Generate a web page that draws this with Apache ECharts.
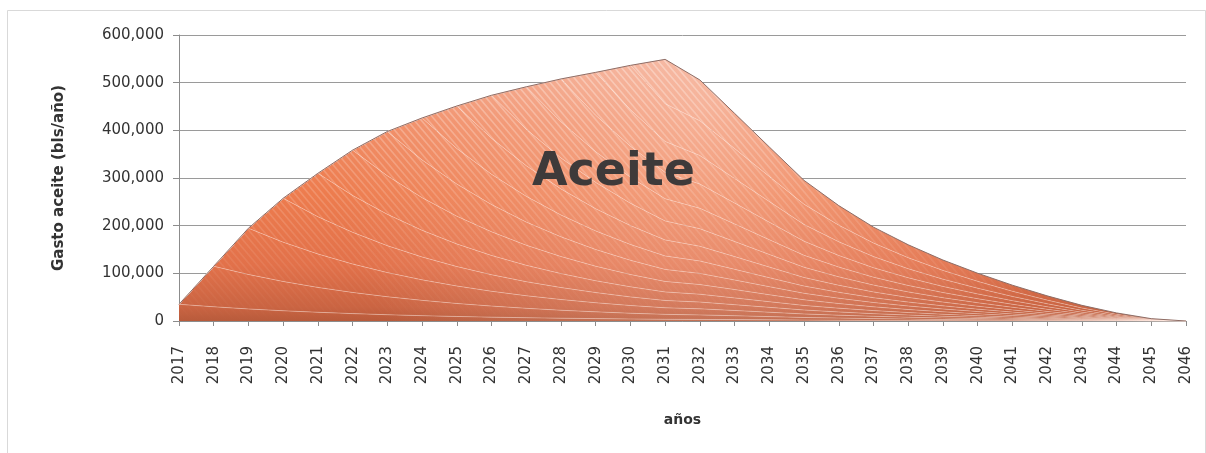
<!DOCTYPE html>
<html>
<head>
<meta charset="utf-8">
<script src="https://cdn.jsdelivr.net/npm/echarts@6/dist/echarts.min.js"></script>
<style>
html,body{margin:0;padding:0;background:#ffffff;}
#chart{width:1206px;height:453px;}
</style>
</head>
<body>
<div id="chart"></div>
<script>
// Years (x categories)
var years = ['2017','2018','2019','2020','2021','2022','2023','2024','2025','2026',
             '2027','2028','2029','2030','2031','2032','2033','2034','2035','2036',
             '2037','2038','2039','2040','2041','2042','2043','2044','2045','2046'];

// Oil rate contribution (bls/año) of the wells brought on line each year
var c2017 = [35000,29800,25300,21500,18300,15500,13200,11200,9500,8100,6900,5900,5000,4200,3600,3300,2900,2400,1900,1600,1300,1000,800,700,500,300,200,100,0,0];
var c2018 = [0,85000,72300,61400,52200,44400,37700,32100,27300,23200,19700,16700,14200,12100,10300,9500,8200,6800,5500,4500,3700,3000,2400,1900,1400,1000,600,300,100,0];
var c2019 = [0,0,97000,82500,70100,59600,50600,43000,36600,31100,26400,22500,19100,16200,13800,12700,11000,9200,7400,6100,4900,4000,3200,2500,1900,1300,800,400,100,0];
var c2020 = [0,0,0,92000,78200,66500,56500,48000,40800,34700,29500,25100,21300,18100,15400,14200,12200,10200,8300,6800,5500,4500,3600,2800,2100,1500,900,500,100,0];
var c2021 = [0,0,0,0,91000,77400,65700,55900,47500,40400,34300,29200,24800,21100,17900,16500,14200,11900,9600,7900,6400,5200,4200,3300,2400,1700,1100,600,200,0];
var c2022 = [0,0,0,0,0,95000,80800,68600,58300,49600,42200,35800,30500,25900,22000,20300,17500,14600,11800,9700,7900,6400,5100,4000,3000,2100,1300,700,200,0];
var c2023 = [0,0,0,0,0,0,93000,79100,67200,57100,48500,41300,35100,29800,25300,23400,20100,16900,13600,11200,9100,7400,5900,4600,3500,2400,1500,800,200,0];
var c2024 = [0,0,0,0,0,0,0,88000,74800,63600,54000,45900,39000,33200,28200,26000,22400,18800,15200,12400,10100,8200,6600,5100,3900,2700,1700,900,300,0];
var c2025 = [0,0,0,0,0,0,0,0,89000,75700,64300,54700,46500,39500,33600,30900,26600,22300,18000,14800,12100,9800,7800,6100,4600,3200,2000,1000,300,0];
var c2026 = [0,0,0,0,0,0,0,0,0,90000,76500,65000,55300,47000,39900,36800,31700,26600,21500,17600,14300,11600,9300,7300,5500,3900,2400,1200,400,0];
var c2027 = [0,0,0,0,0,0,0,0,0,0,89000,75700,64300,54700,46500,42800,36900,30900,25000,20500,16700,13500,10800,8500,6300,4500,2800,1400,400,0];
var c2028 = [0,0,0,0,0,0,0,0,0,0,0,90000,76500,65000,55300,50900,43800,36800,29700,24400,19800,16100,12900,10100,7600,5300,3300,1700,500,0];
var c2029 = [0,0,0,0,0,0,0,0,0,0,0,0,90000,76500,65000,59900,51600,43200,35000,28700,23300,19000,15200,11900,8900,6300,3900,2000,600,0];
var c2030 = [0,0,0,0,0,0,0,0,0,0,0,0,0,93000,79100,72800,62700,52600,42500,34900,28400,23100,18400,14400,10800,7600,4800,2400,700,0];
var c2031 = [0,0,0,0,0,0,0,0,0,0,0,0,0,0,93000,85700,73800,61900,50000,41000,33400,27100,21700,17000,12700,9000,5600,2900,800,0];

var cohorts = [c2017,c2018,c2019,c2020,c2021,c2022,c2023,c2024,c2025,c2026,c2027,c2028,c2029,c2030,c2031];
var cohortNames = ['2017','2018','2019','2020','2021','2022','2023','2024','2025','2026','2027','2028','2029','2030','2031'];

var FONT = 'DejaVu Sans';
var W = 1206, H = 453;

// Fill texture (shared by every stacked band): orange gradient with fine light hatching
function makeTexture(){
  var cv = document.createElement('canvas');
  cv.width = W; cv.height = H;
  var g = cv.getContext('2d');
  var lg = g.createLinearGradient(0, 321, 0, 40);
  lg.addColorStop(0, '#b85b3b');
  lg.addColorStop(0.05, '#ca6442');
  lg.addColorStop(0.2, '#e2714a');
  lg.addColorStop(0.45, '#ed7c4e');
  lg.addColorStop(0.7, '#f08a62');
  lg.addColorStop(1, '#f2a88e');
  g.fillStyle = lg; g.fillRect(0, 0, W, H);
  var rg = g.createRadialGradient(700, 110, 0, 700, 110, 380);
  rg.addColorStop(0, 'rgba(255,232,225,0.4)');
  rg.addColorStop(0.55, 'rgba(255,228,220,0.16)');
  rg.addColorStop(1, 'rgba(255,228,220,0)');
  g.fillStyle = rg; g.fillRect(0, 0, W, H);
  var sg = g.createLinearGradient(0, 321, 0, 40);
  sg.addColorStop(0, 'rgba(255,235,225,0)');
  sg.addColorStop(0.25, 'rgba(255,235,225,0.1)');
  sg.addColorStop(0.6, 'rgba(255,238,230,0.26)');
  sg.addColorStop(1, 'rgba(255,242,236,0.45)');
  g.strokeStyle = sg; g.lineWidth = 1.6;
  for (var x0 = -500; x0 < W; x0 += 7) {
    g.beginPath(); g.moveTo(x0, 0); g.lineTo(x0 + H * 0.85, H); g.stroke();
  }
  return cv;
}
var texture = makeTexture();

var chart = echarts.init(document.getElementById('chart'), null, {renderer:'canvas', devicePixelRatio:1});

var series = [];
cohorts.forEach(function(d, i){
  series.push({
    name:'Pozos ' + cohortNames[i], type:'line', stack:'area', data:d,
    showSymbol:false, symbol:'none', z:2,
    lineStyle:{width:0, opacity:0},
    areaStyle:{color:{image:texture, repeat:'no-repeat'}, opacity:1}
  });
});
cohorts.forEach(function(d, i){
  var last = i === cohorts.length - 1;
  series.push({
    name:'Lim ' + cohortNames[i], type:'line', stack:'lines', data:d,
    showSymbol:false, symbol:'none', z:3, silent:true,
    lineStyle:{width:1, color: last ? '#8d6d66' : 'rgba(255,232,224,0.35)'}
  });
});

chart.setOption({
  animation:false,
  backgroundColor:'#ffffff',
  grid:{left:179, right:20, top:35, bottom:132, containLabel:false},
  xAxis:{
    type:'category', data:years, boundaryGap:false,
    name:'años', nameLocation:'middle', nameGap:92,
    nameTextStyle:{fontFamily:FONT, fontSize:14, fontWeight:'bold', color:'#333'},
    axisLine:{show:true, lineStyle:{color:'#8c8c8c', width:1}},
    axisTick:{show:true, interval:0, length:5, lineStyle:{color:'#8c8c8c'}},
    axisLabel:{interval:0, rotate:90, margin:25, fontFamily:FONT, fontSize:15, color:'#333'},
    splitLine:{show:false}
  },
  yAxis:{
    type:'value', min:0, max:600000, interval:100000,
    name:'Gasto aceite (bls/año)', nameLocation:'middle', nameGap:112, nameRotate:90,
    nameTextStyle:{fontFamily:FONT, fontSize:15, fontWeight:'bold', color:'#333'},
    axisLine:{show:true, lineStyle:{color:'#8c8c8c', width:1}},
    axisTick:{show:true, length:6, lineStyle:{color:'#8c8c8c'}},
    axisLabel:{margin:15, fontFamily:FONT, fontSize:15, color:'#333',
      formatter:function(v){ return v.toString().replace(/\B(?=(\d{3})+(?!\d))/g, ','); }},
    splitLine:{show:true, lineStyle:{color:'#9a9a9a', width:1}}
  },
  graphic:[
    {type:'rect', left:5, top:8, shape:{width:1198, height:443}, z:-1,
     style:{fill:'none', stroke:'#d9d9d9', lineWidth:1}},
    {type:'text', left:532, top:150, z:100,
     style:{text:'Aceite', font:'bold 46px "DejaVu Sans"', fill:'#3e3a3a'}}
  ],
  series:series
});
</script>
</body>
</html>
